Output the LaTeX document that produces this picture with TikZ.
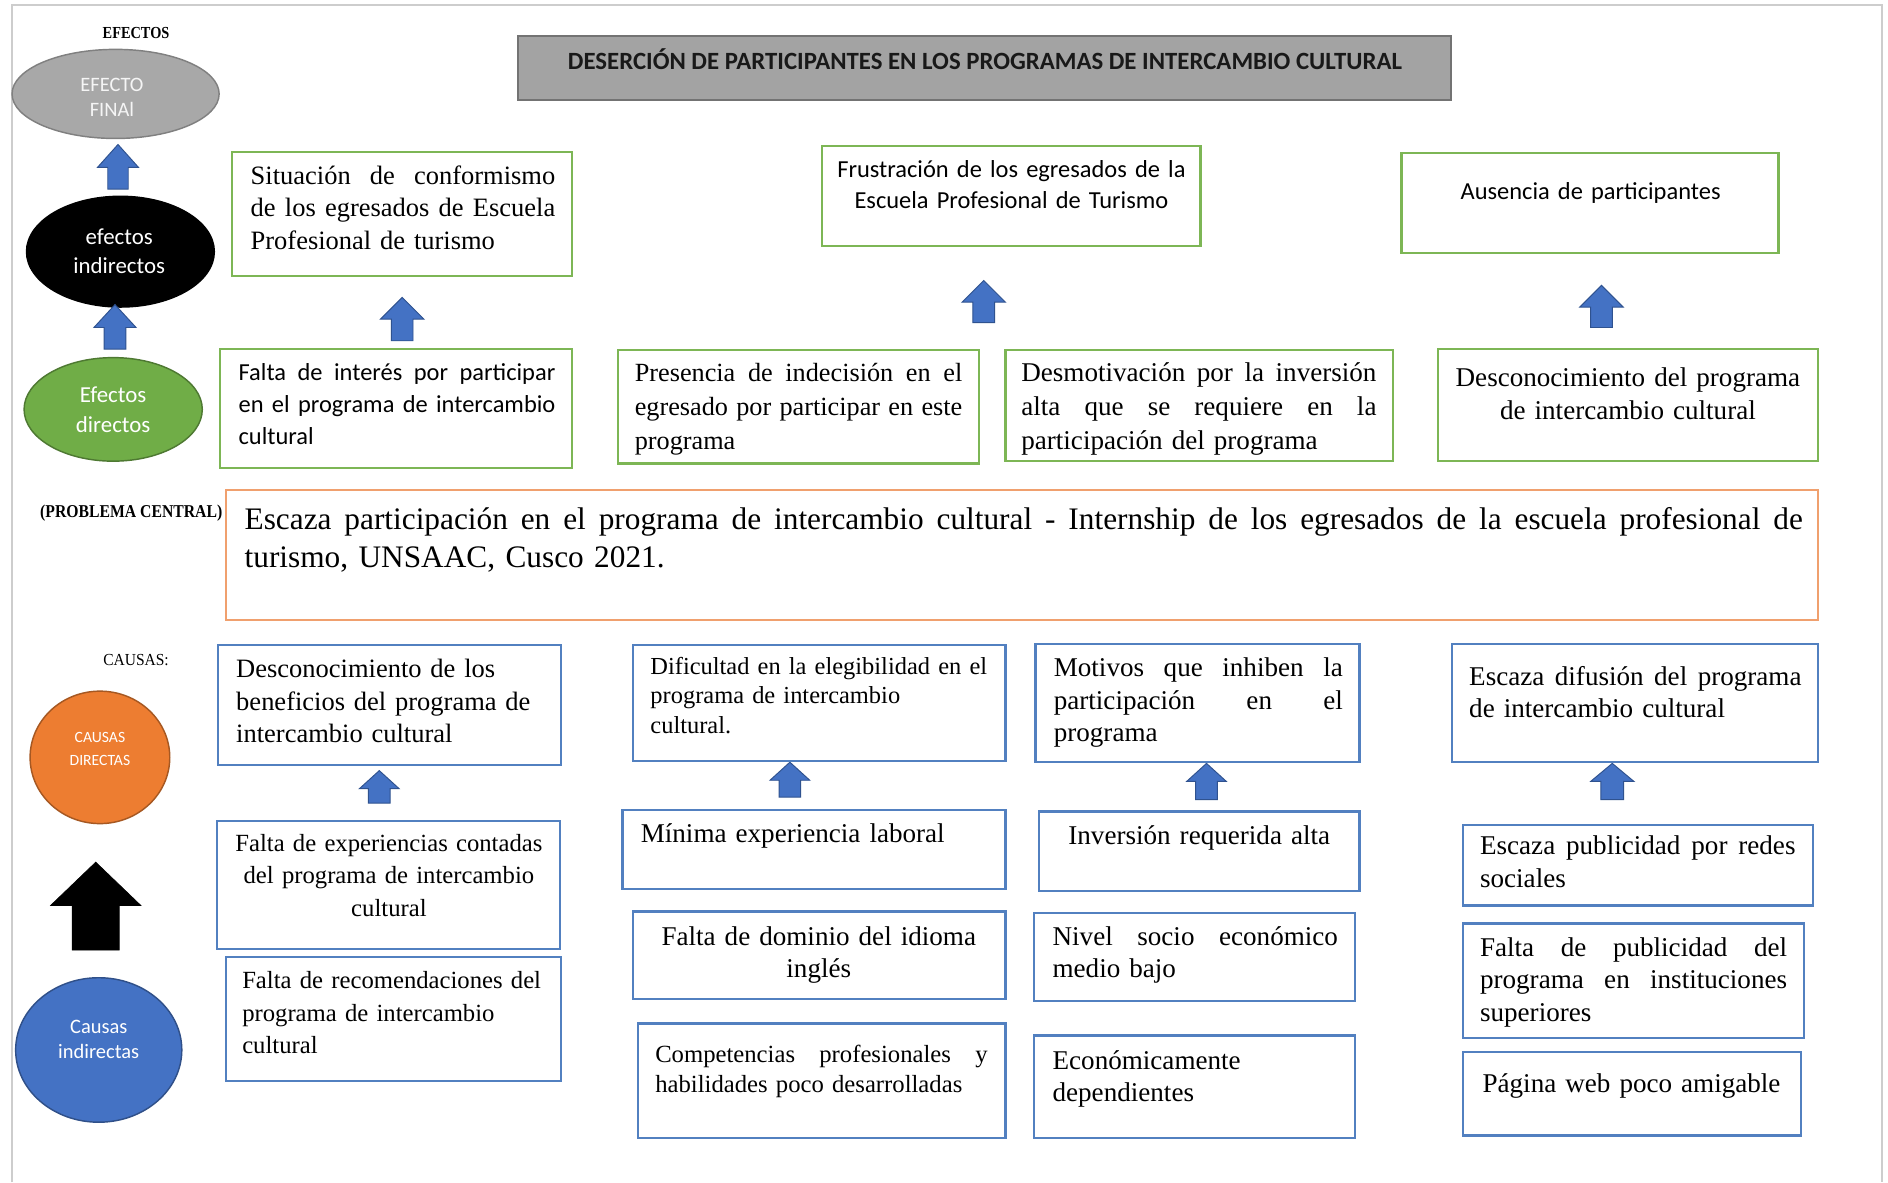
\documentclass[tikz,border=0pt]{standalone}
\usepackage{fontspec}
\setmainfont{Liberation Serif}
\newfontfamily\calfont{Carlito}
\usetikzlibrary{shapes.geometric}
\hyphenpenalty=10000
\exhyphenpenalty=10000
\definecolor{effgreen}{RGB}{125,182,85}
\definecolor{causeblue}{RGB}{82,128,192}
\definecolor{probor}{RGB}{240,160,110}
\definecolor{arrblue}{RGB}{68,114,196}
\definecolor{arrblued}{RGB}{47,82,143}
\definecolor{ttlgray}{RGB}{163,163,163}
\definecolor{ttlborder}{RGB}{115,115,115}
\definecolor{framegray}{RGB}{205,205,205}
\definecolor{elgray}{RGB}{168,168,168}
\definecolor{elgreen}{RGB}{112,173,71}
\definecolor{elorange}{RGB}{237,125,49}
\definecolor{elblue}{RGB}{68,114,196}
\newcommand\jl[2]{\leavevmode\hbox to #1{\spaceskip=\fontdimen2\font plus 1fil minus 0.1em\relax #2}}
\newcommand\tms{\fontsize{22.5}{27}\selectfont}
\newcommand\tmsb{\fontsize{22}{27}\selectfont}
\newcommand\tmsc{\fontsize{20.5}{27}\selectfont}
\newcommand\tmss{\fontsize{20.3}{24.5}\selectfont}
\newcommand\cbr{\calfont\fontsize{20.3}{26.5}\selectfont}
\newcommand\bx[6]{\node[#1,minimum width={#5-#3},minimum height={#6-#4}] (#2) at (#3,#4) {};}
\newcommand\uparr[7][barrow]{\draw[#1] (#2,#3) -- ({#2+#4},#5) -- ({#2+#6},#5) -- ({#2+#6},#7) -- ({#2-#6},#7) -- ({#2-#6},#5) -- ({#2-#4},#5) -- cycle;}
\begin{document}
\begin{tikzpicture}[x=1pt,y=-1pt,
  gbox/.style={draw=effgreen,line width=1.8pt,inner sep=0pt,outer sep=0pt,anchor=north west},
  bbox/.style={draw=causeblue,line width=1.8pt,inner sep=0pt,outer sep=0pt,anchor=north west},
  obox/.style={draw=probor,line width=1.8pt,inner sep=0pt,outer sep=0pt,anchor=north west},
  txt/.style={inner sep=0pt,anchor=base west,align=left,font=\tms},
  ctxt/.style={inner sep=0pt,anchor=base,align=center,font=\tms},
  etxt/.style={inner sep=0pt,anchor=base,align=center,text=white,text width=120pt},
  barrow/.style={fill=arrblue,draw=arrblued,line width=0.8pt},
  karrow/.style={fill=black,draw=black,line width=0.5pt},
  elps/.style={ellipse,inner sep=0pt,line width=1.2pt}
]
\useasboundingbox (0,0) rectangle (1568,982);
\fill[white] (0,0) rectangle (1568,982);
\draw[framegray,line width=1.5pt] (10,982) -- (10,4) -- (1563,4) -- (1563,982);

% title
\node[fill=ttlgray,draw=ttlborder,line width=1.8pt,minimum width=775,minimum height=53,inner sep=0pt] (title) at (817.5,56.5) {};
\node[inner sep=0pt,anchor=base,font=\calfont\bfseries\fontsize{20.6}{24}\selectfont,text=black!90] (titlet) at (818,58) {DESERCIÓN DE PARTICIPANTES EN LOS PROGRAMAS DE INTERCAMBIO CULTURAL};

% side labels
\node[inner sep=0pt,anchor=base] (lblef) at (113,32) {\scalebox{0.85}[1]{\fontsize{14}{16}\selectfont\bfseries EFECTOS}};
\node[inner sep=0pt,anchor=base] (lblpc) at (109,430) {\scalebox{0.87}[1]{\fontsize{15}{17}\selectfont\bfseries (PROBLEMA CENTRAL)}};
\node[inner sep=0pt,anchor=base] (lblca) at (113,553) {\scalebox{0.92}[1]{\fontsize{14}{16}\selectfont CAUSAS:}};

% ellipses
\node[elps,fill=elgray,draw=gray,minimum width=172,minimum height=74] (efin) at (96,78) {};
\node[etxt,font=\calfont\fontsize{17}{21}\selectfont,text=white!92!gray] (efint) at (93,76) {EFECTO\\FINAl};
\node[elps,fill=black,draw=black,minimum width=156,minimum height=92] (eind) at (100,209) {};
\node[etxt,font=\calfont\fontsize{19}{24}\selectfont] (eindt) at (99,203) {efectos\\indirectos};
\node[elps,fill=elgreen,draw=elgreen!70!black,minimum width=148,minimum height=86] (edir) at (94,340) {};
\node[etxt,font=\calfont\fontsize{19}{25}\selectfont] (edirt) at (94,334) {Efectos\\directos};
\node[elps,fill=elorange,draw=elorange!70!black,minimum width=116,minimum height=110] (cdir) at (83,629) {};
\node[etxt,font=\calfont\fontsize{13}{19}\selectfont] (cdirt) at (83,617) {CAUSAS\\DIRECTAS};
\node[elps,fill=elblue,draw=elblue!70!black,minimum width=138,minimum height=120] (cind) at (82,872) {};
\node[etxt,font=\calfont\fontsize{17}{21}\selectfont] (cindt) at (82,858) {Causas\\indirectas};

% block arrows
\uparr{98}{120}{17}{139}{8.5}{157}
\uparr{95.5}{253}{17.5}{272}{9}{290}
\uparr{334}{247}{18}{265}{9}{283}
\uparr{817}{233}{18}{251}{9}{268}
\uparr{1330}{237}{18}{255}{9}{272}
\uparr{315}{640}{16.5}{655}{9}{667}
\uparr{656}{633}{16.5}{648}{9}{662}
\uparr{1002}{634}{16.5}{649}{9}{664}
\uparr{1339}{634}{18}{649}{9.5}{664}
\uparr[karrow]{79.5}{716}{37.5}{752}{19.5}{789}

% effects row 1
\bx{gbox}{A}{193}{126}{475}{229}
\node[txt,font=\tmsb,text width=253pt] (At) at (208,153) {\jl{253pt}{Situación de conformismo}\\\jl{253pt}{de los egresados de Escuela}\\Profesional de turismo};
\bx{gbox}{B}{683}{121}{997}{204}
\node[ctxt,font=\cbr,text width=300pt] (Bt) at (840,147) {Frustración de los egresados de la\\Escuela Profesional de Turismo};
\bx{gbox}{C}{1164}{127}{1477}{210}
\node[ctxt,font=\cbr,text width=300pt] (Ct) at (1321,166) {Ausencia de participantes};

% effects row 2
\bx{gbox}{D}{183}{290}{475}{389}
\node[txt,font=\cbr,text width=263pt] (Dt) at (198,316) {\jl{263pt}{Falta de interés por participar}\\\jl{263pt}{en el programa de intercambio}\\cultural};
\bx{gbox}{E}{513}{291}{813}{385}
\node[txt,font=\fontsize{21.8}{28}\selectfont,text width=272pt] (Et) at (527,317) {\jl{272pt}{Presencia de indecisión en el}\\\jl{272pt}{egresado por participar en este}\\programa};
\bx{gbox}{F}{835}{291}{1157}{383}
\node[txt,font=\fontsize{22.5}{28}\selectfont,text width=295pt] (Ft) at (848,317) {\jl{295pt}{Desmotivación por la inversión}\\\jl{295pt}{alta que se requiere en la}\\participación del programa};
\bx{gbox}{G}{1194}{290}{1510}{383}
\node[ctxt,text width=300pt] (Gt) at (1352,321) {Desconocimiento del programa\\de intercambio cultural};

% central problem
\bx{obox}{P0}{188}{407}{1510}{515}
\node[txt,font=\fontsize{26}{31}\selectfont,text width=1294pt] (P0t) at (203,440) {\jl{1294pt}{Escaza participación en el programa de intercambio cultural - Internship de los egresados de la escuela profesional de}\\turismo, UNSAAC, Cusco 2021.};

% causes column 1
\bx{bbox}{H}{181}{536}{466}{635}
\node[txt,font=\tmsb,text width=256pt] (Ht) at (196,563) {Desconocimiento de los\\beneficios del programa de\\intercambio cultural};
\bx{bbox}{I}{180}{682}{465}{788}
\node[ctxt,font=\tmsc,text width=270pt] (It) at (323,707) {Falta de experiencias contadas\\del programa de intercambio\\cultural};
\bx{bbox}{J}{188}{795}{466}{898}
\node[txt,font=\tmsc,text width=256pt] (Jt) at (201,821) {Falta de recomendaciones del\\programa de intercambio\\cultural};

% causes column 2
\bx{bbox}{K}{526}{536}{835}{632}
\node[txt,font=\tmss,text width=280pt] (Kt) at (540,560) {Dificultad en la elegibilidad en el\\programa de intercambio\\cultural.};
\bx{bbox}{L}{517}{673}{835}{738}
\node[txt,text width=290pt] (Lt) at (532,700) {Mínima experiencia laboral};
\bx{bbox}{M}{526}{757}{835}{830}
\node[ctxt,text width=290pt] (Mt) at (680,785) {Falta de dominio del idioma\\inglés};
\bx{bbox}{N}{530}{850}{835}{945}
\node[txt,font=\fontsize{20.5}{25}\selectfont,text width=276pt] (Nt) at (544,882) {\jl{276pt}{Competencias profesionales y}\\habilidades poco desarrolladas};

% causes column 3
\bx{bbox}{O}{860}{535}{1129}{633}
\node[txt,text width=240pt] (Ot) at (875,562) {\jl{240pt}{Motivos que inhiben la}\\\jl{240pt}{participación en el}\\programa};
\bx{bbox}{Pq}{863}{674}{1129}{740}
\node[ctxt,text width=250pt] (Pqt) at (996,701) {Inversión requerida alta};
\bx{bbox}{Q}{859}{758}{1125}{831}
\node[txt,text width=237pt] (Qt) at (874,785) {\jl{237pt}{Nivel socio económico}\\medio bajo};
\bx{bbox}{R}{859}{860}{1125}{945}
\node[txt,text width=237pt] (Rt) at (874,888) {Económicamente\\dependientes};

% causes column 4
\bx{bbox}{S}{1206}{535}{1510}{633}
\node[txt,text width=276pt] (St) at (1220,569) {\jl{276pt}{Escaza difusión del programa}\\de intercambio cultural};
\bx{bbox}{T}{1215}{685}{1506}{752}
\node[txt,text width=262pt] (Tt) at (1229,710) {\jl{262pt}{Escaza publicidad por redes}\\sociales};
\bx{bbox}{U}{1215}{767}{1498}{862}
\node[txt,text width=255pt] (Ut) at (1229,794) {\jl{255pt}{Falta de publicidad del}\\\jl{255pt}{programa en instituciones}\\superiores};
\bx{bbox}{V}{1215}{874}{1496}{943}
\node[ctxt,text width=260pt] (Vt) at (1355,907) {Página web poco amigable};
\end{tikzpicture}
\end{document}
